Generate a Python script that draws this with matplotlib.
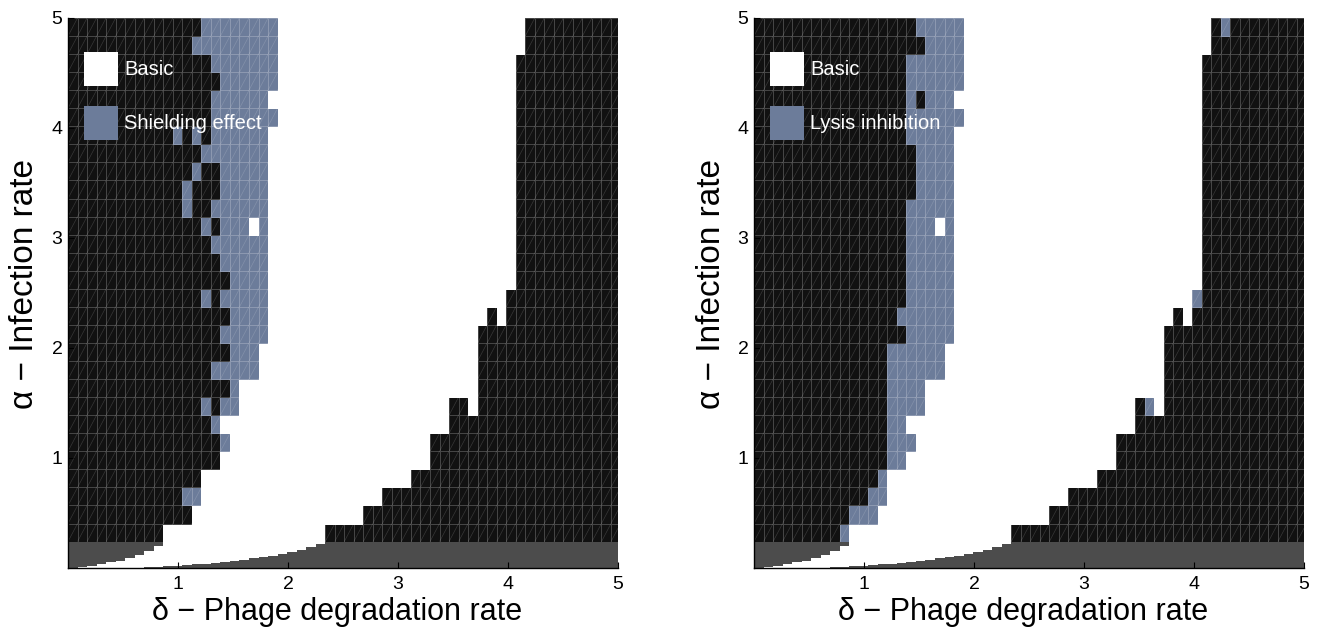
import numpy as np
import matplotlib
matplotlib.use("Agg")
import matplotlib.pyplot as plt
from matplotlib.colors import ListedColormap, BoundaryNorm
from matplotlib.collections import LineCollection
from matplotlib.patches import Patch

plt.rcParams['font.family'] = ['Liberation Sans', 'DejaVu Sans']

# parameter grid: 58 delta columns, 29 alpha rows above a thin low-alpha strip
n_cols = 58
n_rows = 29
col_width = 0.0866
strip_top = 0.24

# per alpha row (bottom -> top): first column after the left black block,
# first column after the blue block, first column of the right black block
shield_black_end = [10, 13, 12, 14, 16, 16, 15, 14, 17, 15, 17, 16, 17, 14, 17, 16, 15, 14, 12, 12, 13, 14, 11, 15, 15, 16, 15, 13, 14]
shield_blue_end = [10, 13, 14, 14, 16, 17, 16, 18, 18, 20, 20, 21, 21, 21, 21, 21, 21, 21, 21, 21, 21, 21, 21, 22, 21, 22, 22, 22, 22]
shield_right = [27, 31, 33, 36, 38, 38, 40, 43, 43, 43, 43, 43, 46, 46, 47, 47, 47, 47, 47, 47, 47, 47, 47, 47, 47, 47, 47, 48, 48]
# odd single cells (row, col, state): 0 basic, 1 black, 2 blue
shield_extra = [(7, 15, 1), (7, 40, 1), (7, 41, 1), (12, 44, 1), (13, 15, 1), (17, 15, 1), (17, 19, 0),
                (18, 13, 1), (18, 14, 1), (19, 13, 1), (19, 14, 1), (19, 15, 1), (20, 14, 1), (20, 15, 1),
                (22, 12, 1), (22, 14, 1)]

lysis_black_end = [9, 10, 12, 13, 14, 14, 14, 14, 14, 14, 14, 16, 15, 16, 16, 16, 16, 16, 16, 17, 17, 17, 16, 16, 16, 16, 16, 18, 17]
lysis_blue_end = [10, 13, 14, 14, 16, 17, 16, 18, 18, 20, 20, 21, 21, 21, 21, 21, 21, 21, 21, 21, 21, 21, 21, 22, 21, 22, 22, 22, 22]
lysis_right = [27, 31, 33, 36, 38, 38, 40, 43, 43, 43, 43, 43, 46, 47, 47, 47, 47, 47, 47, 47, 47, 47, 47, 47, 47, 47, 47, 48, 48]
lysis_extra = [(7, 40, 1), (7, 41, 2), (12, 44, 1), (13, 46, 2), (17, 19, 0), (24, 17, 1), (28, 49, 2)]

# low-alpha strip, columns 0..26: the open (white) band lies between floor and ceiling
strip_floor = [0, 0, 0, 0, 0.001, 0.002, 0.003, 0.005, 0.008, 0.012, 0.016, 0.021, 0.027, 0.033,
               0.040, 0.048, 0.056, 0.065, 0.075, 0.087, 0.100, 0.113, 0.128, 0.145, 0.165, 0.190, 0.215]
strip_ceiling = [0, 0.01, 0.02, 0.035, 0.055, 0.07, 0.09, 0.12, 0.155, 0.20, 0.24, 0.24, 0.24, 0.24,
                 0.24, 0.24, 0.24, 0.24, 0.24, 0.24, 0.24, 0.24, 0.24, 0.24, 0.24, 0.24, 0.24]

panels = [
    ("Shielding effect", shield_black_end, shield_blue_end, shield_right, shield_extra),
    ("Lysis inhibition", lysis_black_end, lysis_blue_end, lysis_right, lysis_extra),
]

black = "#111111"
blue = "#6c7c9a"
strip_grey = "#4c4c4c"
cmap = ListedColormap(["white", black, blue])
norm = BoundaryNorm([-0.5, 0.5, 1.5, 2.5], cmap.N)

x_edges = np.arange(n_cols + 1) * col_width
y_edges = np.linspace(strip_top, 5, n_rows + 1)
fy = np.linspace(0, strip_top, 61)
fc = (fy[:-1] + fy[1:]) / 2


def build(black_end, blue_end, right, extra):
    grid = np.zeros((n_rows, n_cols))
    cols = np.arange(n_cols)
    for r in range(n_rows):
        grid[r, cols < blue_end[r]] = 2
        grid[r, cols < black_end[r]] = 1
        grid[r, cols >= right[r]] = 1
    for r, c, v in extra:
        grid[r, c] = v
    return grid


strip = np.ones((len(fc), n_cols))
for c in range(len(strip_floor)):
    strip[(fc > strip_floor[c]) & (fc < strip_ceiling[c]), c] = 0

# the "/" split of every coarse cell
X0, Y0 = np.meshgrid(x_edges[:-1], y_edges[:-1])
X1, Y1 = np.meshgrid(x_edges[1:], y_edges[1:])
diag = np.stack([np.stack([X0.ravel(), Y0.ravel()], 1), np.stack([X1.ravel(), Y1.ravel()], 1)], 1)

fig = plt.figure(figsize=(13.26, 6.37), dpi=100)
lefts = [68 / 1326, 754 / 1326]

for left, (name, be, bl, rs, ex) in zip(lefts, panels):
    ax = fig.add_axes([left, 69 / 637, 550 / 1326, 550 / 637])
    ax.pcolormesh(x_edges, y_edges, build(be, bl, rs, ex), cmap=cmap, norm=norm,
                  edgecolors=(1, 1, 1, 0.22), linewidth=0.6)
    ax.pcolormesh(x_edges, fy, strip, cmap=ListedColormap(["white", strip_grey]),
                  vmin=0, vmax=1, edgecolors="none")
    ax.add_collection(LineCollection(diag, colors=[(1, 1, 1, 0.16)], linewidths=0.5))

    ax.set_xlim(0, 5)
    ax.set_ylim(0, 5)
    ax.set_xticks([1, 2, 3, 4, 5])
    ax.set_yticks([1, 2, 3, 4, 5])
    ax.tick_params(direction="in", length=4, width=0.8, labelsize=14, pad=6)
    ax.tick_params(axis="y", pad=4)
    for s in ["top", "right"]:
        ax.spines[s].set_visible(False)
    for s in ["left", "bottom"]:
        ax.spines[s].set_linewidth(1.0)

    ax.set_xlabel("δ − Phage degradation rate", fontsize=22)
    ax.xaxis.set_label_coords(0.49, -0.053)
    ax.set_ylabel("α − Infection rate", fontsize=24)
    ax.yaxis.set_label_coords(-0.05, 0.516)

    handles = [Patch(facecolor="white", edgecolor="none", label="Basic"),
               Patch(facecolor=blue, edgecolor="none", label=name)]
    ax.legend(handles=handles, loc="upper left", bbox_to_anchor=(0.029, 0.939), frameon=False,
              fontsize=14.5, labelcolor="white", handlelength=1.69, handleheight=2.22,
              handletextpad=0.3, labelspacing=1.0, borderpad=0, borderaxespad=0)

fig.savefig("out.png", dpi=100)
